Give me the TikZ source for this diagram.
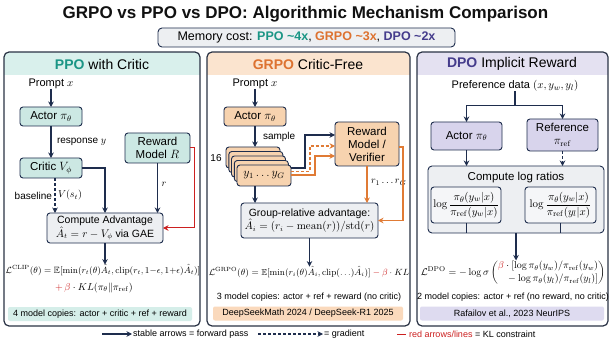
\documentclass[tikz,border=0pt]{standalone}
\usepackage[no-math]{fontspec}
\setmainfont{Liberation Sans}
\usepackage{amsmath,amssymb}
\usetikzlibrary{arrows.meta,calc}
\definecolor{navy}{HTML}{1E2D4D}
\definecolor{titleC}{HTML}{111111}
\definecolor{panelB}{HTML}{2A3345}
\definecolor{ppoT}{HTML}{1A9585}
\definecolor{ppoH}{HTML}{D9F0EC}
\definecolor{ppoB}{HTML}{CCE8E3}
\definecolor{ppoS}{HTML}{D5EEE9}
\definecolor{grpoT}{HTML}{DD7230}
\definecolor{grpoH}{HTML}{FBE4CF}
\definecolor{grpoB}{HTML}{F7D3AF}
\definecolor{grpoS}{HTML}{FAD9BC}
\definecolor{grpoA}{HTML}{E07B35}
\definecolor{dpoT}{HTML}{453C8C}
\definecolor{dpoH}{HTML}{E4E1F1}
\definecolor{dpoB}{HTML}{D8D4EC}
\definecolor{dpoS}{HTML}{DEDBF0}
\definecolor{grayF}{HTML}{EDEFF2}
\definecolor{grayG}{HTML}{F5F6F8}
\definecolor{redKL}{HTML}{CC2020}
\begin{document}
\begin{tikzpicture}[x=1pt,y=1pt,
  every node/.style={inner sep=0pt,outer sep=0pt},
  arr/.style={draw=navy,line width=1.1pt,-{Stealth[length=5.5pt,width=5.5pt]}},
  oarr/.style={draw=grpoA,line width=1.1pt,-{Stealth[length=5.5pt,width=5.5pt]}},
  rarr/.style={draw=redKL,line width=1pt,-{Stealth[length=5.5pt,width=5.5pt]}},
  dsh/.style={dash pattern=on 3pt off 2pt},
  box/.style={draw=navy,line width=0.9pt,rounded corners=3pt,align=center,font=\fontsize{11.5}{13}\selectfont},
  sbox/.style={draw=navy,line width=0.9pt,rounded corners=3pt,align=center,font=\fontsize{10.5}{12.5}\selectfont},
  panel/.style={draw=panelB,line width=1.2pt,rounded corners=5pt},
  head/.style={font=\fontsize{14}{16}\selectfont},
  txt/.style={font=\fontsize{11}{13}\selectfont},
  lbl/.style={font=\fontsize{10}{12}\selectfont},
  note/.style={font=\fontsize{9}{11}\selectfont},
  strip/.style={rounded corners=2pt,minimum height=14pt,font=\fontsize{9}{11}\selectfont},
]
\useasboundingbox (0,0) rectangle (611,-350);
\fill[white] (0,0) rectangle (611,-350);

% title and memory
\node[font=\fontsize{17}{20}\selectfont\bfseries,text=titleC] (title) at (305.5,-14) {GRPO vs PPO vs DPO: Algorithmic Mechanism Comparison};
\node[draw=navy,line width=0.9pt,fill=grayF,rounded corners=4pt,minimum width=297pt,minimum height=19pt,font=\fontsize{12.5}{14}\selectfont] (mem) at (306.5,-37.5)
 {Memory cost: \textcolor{ppoT}{\bfseries PPO \textasciitilde4x}, \textcolor{grpoT}{\bfseries GRPO \textasciitilde3x}, \textcolor{dpoT}{\bfseries DPO \textasciitilde2x}};

% panels
\begin{scope}
\clip[rounded corners=5pt] (4,-52) rectangle (200,-326);
\fill[ppoH] (4,-52) rectangle (200,-75);
\end{scope}
\draw[panel] (4,-52) rectangle (200,-326);
\begin{scope}
\clip[rounded corners=5pt] (207,-52) rectangle (410,-326);
\fill[grpoH] (207,-52) rectangle (410,-75);
\end{scope}
\draw[panel] (207,-52) rectangle (410,-326);
\begin{scope}
\clip[rounded corners=5pt] (417,-52) rectangle (608,-326);
\fill[dpoH] (417,-52) rectangle (608,-75);
\end{scope}
\draw[panel] (417,-52) rectangle (608,-326);

% ---------- PPO ----------
\node[head] (phead) at (102,-64) {\textcolor{ppoT}{\bfseries PPO} with Critic};
\node[txt] (pprompt) at (51,-84) {Prompt $x$};
\node[box,fill=ppoB,minimum width=62pt,minimum height=19pt] (pactor) at (51,-116.5) {Actor $\pi_\theta$};
\node[box,fill=ppoB,minimum width=62pt,minimum height=20pt] (pcritic) at (51,-168) {Critic $V_\phi$};
\node[box,fill=ppoB,minimum width=65pt,minimum height=30pt] (preward) at (157.5,-148) {Reward\\Model $R$};
\node[sbox,fill=grayF,minimum width=116pt,minimum height=30pt] (padv) at (105,-228) {Compute Advantage\\$\hat{A}_t = r - V_\phi$ via GAE};
\node[font=\fontsize{9.1}{11}\selectfont] (pform1) at (103,-270) {$\mathcal{L}^{\mathrm{CLIP}}(\theta)=\mathbb{E}[\min(r_t(\theta)\hat{A}_t,\mathrm{clip}(r_t,1{-}\epsilon,1{+}\epsilon)\hat{A}_t)]$};
\node[font=\fontsize{9.6}{12}\selectfont,anchor=west] (pform2) at (55,-288) {$\textcolor{redKL}{+\,\beta}\cdot KL(\pi_\theta\|\pi_{\mathrm{ref}})$};
\node[strip,fill=ppoS,minimum width=184pt] (pstrip) at (100,-314) {4 model copies: actor + critic + ref + reward};

\draw[arr] (pprompt) -- (pactor);
\draw[arr] (pactor) -- node[lbl,anchor=west,xshift=6pt]{response $y$} (pcritic);
\draw[arr] (pcritic.east) -| (padv.north);
\coordinate (pbs) at ($(pcritic.south)+(4,0)$);
\draw[arr,dsh] (pbs) -- node[lbl,anchor=east,xshift=-3pt]{baseline} node[lbl,anchor=west,xshift=3pt]{$V(s_t)$} (pbs |- padv.north);
\draw[arr] (preward.south) -- node[lbl,anchor=west,xshift=4pt,yshift=4pt]{$r$} (preward.south |- padv.north);
\draw[rarr] (preward.east) -- ++(4,0) |- (padv.east);
\draw[arr] (padv.south) -- (padv.south |- pform1.north);

% ---------- GRPO ----------
\node[head] (ghead) at (308,-64) {\textcolor{grpoT}{\bfseries GRPO} Critic-Free};
\node[txt] (gprompt) at (255,-84) {Prompt $x$};
\node[box,fill=grpoB,minimum width=62pt,minimum height=19pt] (gactor) at (255,-116.5) {Actor $\pi_\theta$};
\node[draw=navy,line width=0.9pt,rounded corners=3pt,fill=grpoB,minimum width=54pt,minimum height=21pt,anchor=north west] (gc1) at (226,-147) {};
\node[draw=navy,line width=0.9pt,rounded corners=3pt,fill=grpoB,minimum width=54pt,minimum height=21pt,anchor=north west] (gc2) at (228.8,-151.5) {};
\node[draw=navy,line width=0.9pt,rounded corners=3pt,fill=grpoB,minimum width=54pt,minimum height=21pt,anchor=north west] (gc3) at (231.5,-156) {};
\node[draw=navy,line width=0.9pt,rounded corners=3pt,fill=grpoB,minimum width=54pt,minimum height=21pt,anchor=north west] (gc4) at (234.3,-160.5) {};
\node[box,fill=grpoB,minimum width=54pt,minimum height=21pt,anchor=north west] (gys) at (237,-165) {$y_1\ldots y_G$};
\node[lbl] (g16) at (216,-158) {16};
\node[box,fill=grpoB,minimum width=64pt,minimum height=44pt] (grv) at (367,-144) {Reward\\Model /\\Verifier};
\node[sbox,fill=grayF,minimum width=137pt,minimum height=35pt] (ggroup) at (309.5,-220.5) {Group-relative advantage:\\$\hat{A}_i=(r_i-\mathrm{mean}(r))/\mathrm{std}(r)$};
\node[font=\fontsize{8.7}{11}\selectfont] (gform) at (309,-272) {$\mathcal{L}^{\mathrm{GRPO}}(\theta)=\mathbb{E}[\min(r_i(\theta)\hat{A}_i,\mathrm{clip}(\ldots)\hat{A}_i)]\mathbin{\textcolor{redKL}{-}}\textcolor{redKL}{\beta}\cdot KL$};
\node[note] (gnote) at (309,-297) {3 model copies: actor + ref + reward (no critic)};
\node[strip,fill=grpoS,minimum width=190pt] (gstrip) at (308,-313.5) {DeepSeekMath 2024 / DeepSeek-R1 2025};

\draw[arr] (gprompt) -- (gactor);
\draw[arr] (gactor) -- node[lbl,anchor=west,xshift=8pt]{sample} (gactor.south |- gc1.north);
\coordinate (gsx) at (gactor.south |- gys.south);
\draw[arr] (gsx) -- (gsx |- ggroup.north);
\draw[arr] ([yshift=7.5pt]gys.east) -- ++(14,0) |- ([yshift=9pt]grv.west);
\draw[oarr,dsh] ([yshift=4pt]gys.east) -- ++(19,0) |- ([yshift=-2pt]grv.west);
\draw[oarr] ([yshift=0.5pt]gys.east) -- ++(24,0) |- ([yshift=-12pt]grv.west);
\draw[oarr] (grv.south) -- node[lbl,anchor=west,xshift=4pt,yshift=2pt]{$r_1\ldots r_G$} (grv.south |- ggroup.north);
\draw[oarr] ([yshift=-3pt]grv.east) -- ++(4,0) |- (ggroup.east);
\draw[arr] (ggroup.south) -- (ggroup.south |- gform.north);

% ---------- DPO ----------
\node[head] (dhead) at (512,-64) {\textcolor{dpoT}{\bfseries DPO} Implicit Reward};
\node[txt] (dpref) at (515,-86) {Preference data $(x,y_w,y_l)$};
\node[box,fill=dpoB,minimum width=71pt,minimum height=28pt] (dactor) at (466.5,-136) {Actor $\pi_\theta$};
\node[box,fill=dpoB,minimum width=71pt,minimum height=32pt] (dref) at (562.5,-135) {Reference\\$\pi_{\mathrm{ref}}$};
\node[draw=navy,line width=0.9pt,rounded corners=4pt,fill=grayF,minimum width=176pt,minimum height=67pt] (dlog) at (516,-199.5) {};
\node[font=\fontsize{11.5}{13}\selectfont] (dlogt) at (516,-178) {Compute log ratios};
\node[draw=navy,line width=0.9pt,rounded corners=3pt,fill=grayG,minimum width=70pt,minimum height=36pt,font=\fontsize{11}{13}\selectfont] (dl1) at (466,-205) {$\log\dfrac{\pi_\theta(y_w|x)}{\pi_{\mathrm{ref}}(y_w|x)}$};
\node[draw=navy,line width=0.9pt,rounded corners=3pt,fill=grayG,minimum width=71pt,minimum height=36pt,font=\fontsize{11}{13}\selectfont] (dl2) at (560.5,-205) {$\log\dfrac{\pi_\theta(y_w|x)}{\pi_{\mathrm{ref}}(y_l|x)}$};
\node[font=\fontsize{9.6}{12}\selectfont] (dform) at (513,-273) {$\mathcal{L}^{\mathrm{DPO}}=-\log\sigma\left(\begin{array}{@{}r@{}}\textcolor{redKL}{\beta}\cdot[\log\pi_\theta(y_w)/\pi_{\mathrm{ref}}(y_w)\\[1pt] {}-\log\pi_\theta(y_l)/\pi_{\mathrm{ref}}(y_l)]\end{array}\right)$};
\node[note] (dnote) at (513,-297) {2 model copies: actor + ref (no reward, no critic)};
\node[strip,fill=dpoS,minimum width=184pt] (dstrip) at (512,-313.5) {Rafailov et al., 2023 NeurIPS};

\draw[navy,line width=1.1pt] (dpref.south) -- ++(0,-14) coordinate (dsplit);
\draw[arr] (dsplit) -| (dactor.north);
\draw[arr] (dsplit) -| (dref.north);
\draw[arr] (dactor.south) -- (dactor.south |- dlog.north);
\draw[arr,dsh] (dref.south) -- (dref.south |- dlog.north);
\draw[navy,line width=0.9pt] (dl1.south) -- (dl1.south |- dlog.south);
\draw[navy,line width=0.9pt] (dl2.south) -- (dl2.south |- dlog.south);
\draw[arr] (dlog.south) -- (dlog.south |- dform.north);

% ---------- legend ----------
\coordinate (lga) at (102,-334);
\node[note,anchor=west] (lg1) at (133,-334) {stable arrows = forward pass};
\draw[arr] (lga) -- ([xshift=-1pt]lg1.west);
\coordinate (lgb) at (258,-334);
\node[note,anchor=west] (lg2) at (324,-334) {= gradient};
\draw[arr,dsh] (lgb) -- ([xshift=-1pt]lg2.west);
\coordinate (lgc) at (397,-334);
\node[note,anchor=west] (lg3) at (409,-334) {\textcolor{redKL}{red arrows/lines} = KL constraint};
\draw[redKL,line width=1pt] (lgc) -- ([xshift=-3pt]lg3.west);
\end{tikzpicture}
\end{document}
